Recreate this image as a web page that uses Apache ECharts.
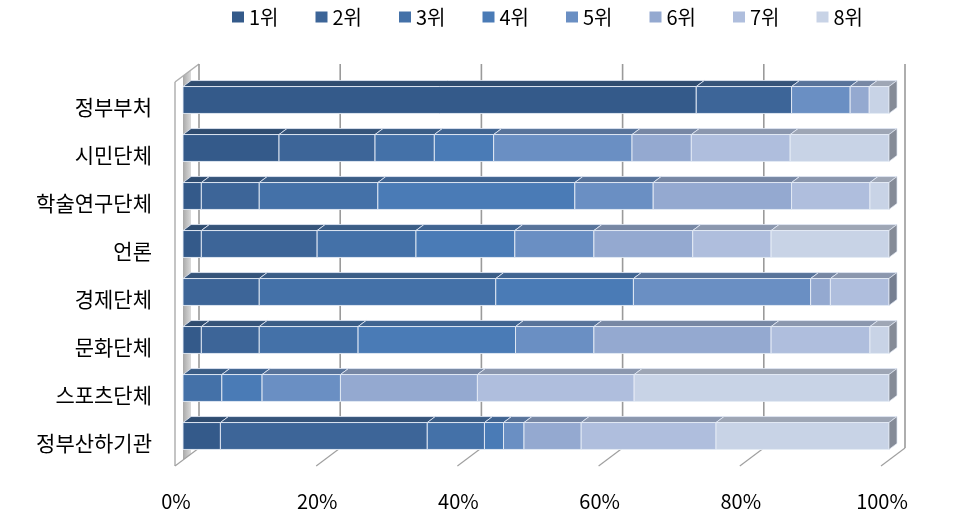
<!DOCTYPE html>
<html>
<head>
<meta charset="utf-8">
<script src="https://cdn.jsdelivr.net/npm/echarts@6/dist/echarts.min.js"></script>
<style>
html,body{margin:0;padding:0;background:#fff;}
#chart{width:962px;height:519px;}
</style>
</head>
<body>
<div id="chart"></div>
<script>
const categories = ['정부부처','시민단체','학술연구단체','언론','경제단체','문화단체','스포츠단체','정부산하기관'];
const rankNames = ['1위','2위','3위','4위','5위','6위','7위','8위'];
const rank1 = [72.7, 13.6, 2.6, 2.6, 0, 2.6, 0, 5.3];
const rank2 = [13.5, 13.6, 8.2, 16.4, 10.8, 8.2, 0, 29.3];
const rank3 = [0, 8.4, 16.8, 14.0, 33.5, 14.0, 5.5, 8.1];
const rank4 = [0, 8.4, 27.9, 14.0, 19.5, 22.3, 5.7, 2.7];
const rank5 = [8.3, 19.6, 11.1, 11.2, 25.1, 11.1, 11.1, 2.9];
const rank6 = [2.7, 8.4, 19.6, 14.0, 2.8, 25.1, 19.4, 8.1];
const rank7 = [0, 14.0, 11.1, 11.1, 8.3, 14.0, 22.2, 19.1];
const rank8 = [2.8, 14.0, 2.7, 16.7, 0, 2.7, 36.1, 24.5];
const xTicks = [0, 20, 40, 60, 80, 100];

const rankValues = [rank1, rank2, rank3, rank4, rank5, rank6, rank7, rank8];
const colors = ['#345a8a','#3d6598','#4471a8','#4a7bb6','#6a8fc3','#94a9d0','#afbedd','#c8d3e6'];
const FONT = "'Noto Sans CJK KR', 'Noto Sans', sans-serif";
const DX = 8, DY = 6;

function shade(hex, t) {
  const n = parseInt(hex.slice(1), 16);
  const r = (n >> 16) & 255, g = (n >> 8) & 255, b = n & 255;
  const k = 32;
  const f = v => Math.round(v * (1 - t) + k * t);
  return 'rgb(' + f(r) + ',' + f(g) + ',' + f(b) + ')';
}

// cumulative starts
const cum = categories.map(() => 0);
const barSeries = rankValues.map((vals, ri) => {
  const data = vals.map((v, ci) => {
    const s = cum[ci];
    cum[ci] += v;
    return [ci, s, s + v];
  });
  return {
    name: rankNames[ri],
    type: 'custom',
    clip: false,
    itemStyle: { color: colors[ri] },
    encode: { x: [1, 2], y: 0 },
    data: data,
    renderItem: function (params, api) {
      const ci = api.value(0), s = api.value(1), e = api.value(2);
      if (e - s <= 0.001) return { type: 'group', children: [] };
      const p0 = api.coord([s, ci]);
      const p1 = api.coord([e, ci]);
      const h = api.size([0, 1])[1] * 0.56;
      const top = p0[1] - h / 2, bot = p0[1] + h / 2;
      const x0 = p0[0], x1 = p1[0];
      const c = colors[ri];
      const children = [
        { type: 'polygon', shape: { points: [[x0, top], [x0 + DX, top - DY], [x1 + DX, top - DY], [x1, top]] },
          style: { fill: shade(c, 0.25), stroke: 'rgba(225,232,244,0.85)', lineWidth: 1 } },
        { type: 'rect', shape: { x: x0, y: top, width: x1 - x0, height: h },
          style: { fill: c, stroke: 'rgba(230,236,246,0.9)', lineWidth: 1 } }
      ];
      if (e >= 99.95) {
        children.push({ type: 'polygon', shape: { points: [[x1, top], [x1 + DX, top - DY], [x1 + DX, bot - DY], [x1, bot]] },
          style: { fill: shade(c, 0.4), stroke: 'rgba(225,232,244,0.7)', lineWidth: 1 } });
      }
      return { type: 'group', children: children };
    }
  };
});

const decorSeries = {
  name: 'decor',
  type: 'custom',
  clip: false,
  silent: true,
  encode: { x: 0, y: 1 },
  data: xTicks.map(v => [v, 0]),
  renderItem: function (params, api) {
    const v = api.value(0);
    const cs = params.coordSys;
    const gy = cs.y, gb = cs.y + cs.height;
    const cx = api.coord([v, 0])[0];
    const lineStyle = { stroke: '#9a9a9a', lineWidth: 1.6 };
    const children = [];
    if (v === xTicks[0]) {
      children.push({ type: 'polygon', shape: { points: [[cx, gy], [cx + DX, gy - DY], [cx + DX, gb - DY], [cx, gb]] },
        style: { fill: { type: 'linear', x: 0, y: 0, x2: 1, y2: 0, colorStops: [{ offset: 0, color: '#a9a9a9' }, { offset: 1, color: '#dadada' }] } } });
      children.push({ type: 'line', shape: { x1: cx - DX, y1: gy + DY, x2: cx - DX, y2: gb + DY }, style: { stroke: '#b0b0b0', lineWidth: 1.5 } });
      children.push({ type: 'line', shape: { x1: cx - DX, y1: gy + DY, x2: cx + 2 * DX, y2: gy - 2 * DY }, style: { stroke: '#b0b0b0', lineWidth: 1.5 } });
    }
    children.push({ type: 'line', shape: { x1: cx + 2 * DX, y1: gy - 2 * DY, x2: cx + 2 * DX, y2: gb - 2 * DY }, style: lineStyle });
    children.push({ type: 'line', shape: { x1: cx - DX, y1: gb + DY, x2: cx + 2 * DX, y2: gb - 2 * DY }, style: { stroke: '#a0a0a0', lineWidth: 1.2 } });
    return { type: 'group', children: children };
  }
};

const chart = echarts.init(document.getElementById('chart'), null, { renderer: 'canvas' });
chart.setOption({
  animation: false,
  color: colors,
  textStyle: { fontFamily: FONT },
  legend: {
    data: rankNames,
    left: 232,
    top: 7,
    padding: 0,
    icon: 'rect',
    itemWidth: 12,
    itemHeight: 11,
    itemGap: 37,
    textStyle: { fontSize: 20, color: '#000', fontFamily: FONT }
  },
  grid: { left: 183, right: 73, top: 76, bottom: 59, containLabel: false },
  xAxis: {
    type: 'value',
    min: 0,
    max: 100,
    interval: 20,
    axisLine: { show: false },
    axisTick: { show: false },
    splitLine: { show: false },
    axisLabel: {
      formatter: '{value}%',
      fontSize: 20,
      color: '#000',
      fontFamily: FONT,
      margin: 31,
      padding: [0, 14, 0, 0]
    }
  },
  yAxis: {
    type: 'category',
    data: categories,
    inverse: true,
    axisLine: { show: false },
    axisTick: { show: false },
    splitLine: { show: false },
    axisLabel: {
      fontSize: 21,
      color: '#000',
      fontFamily: FONT,
      margin: 31,
      verticalAlign: 'top',
      lineHeight: 14
    }
  },
  series: [decorSeries].concat(barSeries)
});
</script>
</body>
</html>
